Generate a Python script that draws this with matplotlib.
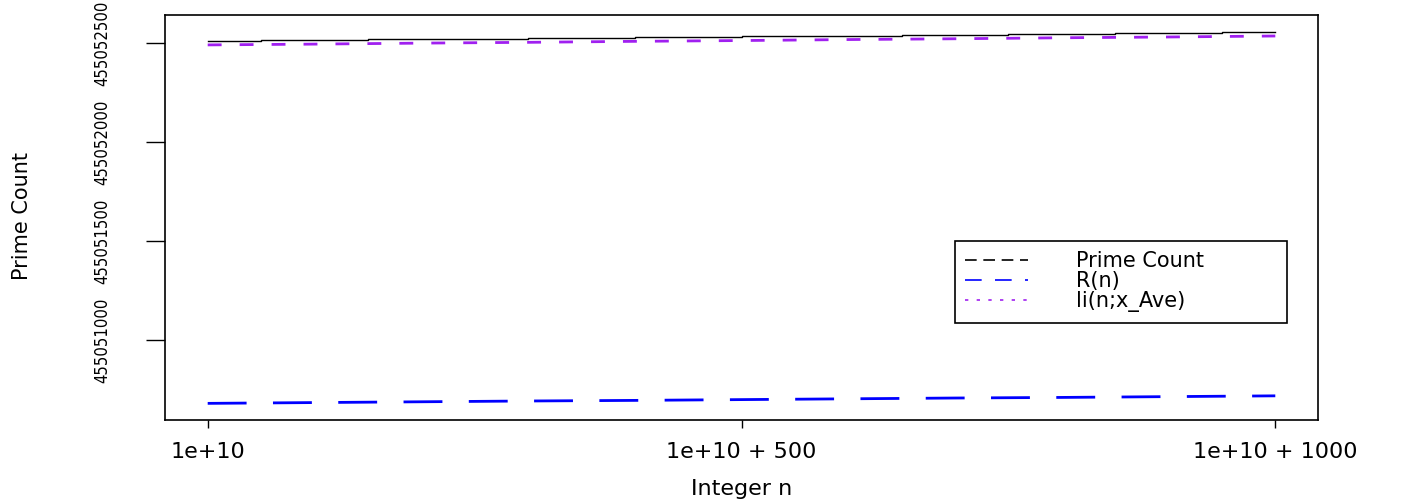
import matplotlib
matplotlib.use("Agg")
import matplotlib.pyplot as plt
from matplotlib.lines import Line2D

# offsets from 1e10
pc_offset = [0, 50, 100, 150, 200, 250, 300, 350, 400, 450, 500,
             550, 600, 650, 700, 750, 800, 850, 900, 950, 1000]
prime_count = [455052511, 455052513, 455052515, 455052518, 455052520, 455052522,
               455052524, 455052526, 455052528, 455052531, 455052533, 455052535,
               455052537, 455052539, 455052542, 455052544, 455052546, 455052548,
               455052551, 455052553, 455052555]

offset = [0, 100, 200, 300, 400, 500, 600, 700, 800, 900, 1000]
R_n = [455050680, 455050684, 455050688, 455050692, 455050695, 455050699,
       455050703, 455050707, 455050710, 455050714, 455050718]
li_ave = [455052490, 455052494, 455052499, 455052503, 455052508, 455052512,
          455052517, 455052521, 455052526, 455052530, 455052535]

yticks = [455051000, 455051500, 455052000, 455052500]
xticks = [0, 500, 1000]
xlabels = ["1e+10", "1e+10 + 500", "1e+10 + 1000"]

fig = plt.figure(figsize=[14.01, 4.99], dpi=100)
ax = fig.add_axes([165/1401, 1-420/499, (1318-165)/1401, (420-15)/499])

ax.step(pc_offset, prime_count, where="post", color="black", lw=1)
ax.plot(offset, R_n, color="#0000FF", lw=2, dashes=(14, 9.5))
ax.plot(offset, li_ave, color="#A020F0", lw=2, dashes=(5, 6.5))

ax.set_xlim(-40, 1040)
ax.set_ylim(455050596, 455052641)
ax.set_xticks(xticks)
ax.set_xticklabels(xlabels, fontsize=16)
ax.set_yticks(yticks)
ax.set_yticklabels([str(v) for v in yticks], rotation=90, va="center",
                   fontsize=12, fontstretch="condensed")
ax.tick_params(axis="x", length=6, width=1, pad=10)
ax.tick_params(axis="y", length=14, width=1, pad=25)
for s in ax.spines.values():
    s.set_linewidth(1.2)

ax.set_xlabel("Integer n", fontsize=16, labelpad=12)
fig.text(22/1401, 1-216/499, "Prime Count", rotation=90, va="center", ha="center",
         fontsize=15)

handles = [Line2D([], [], color="black", lw=1.2, dashes=(7, 4)),
           Line2D([], [], color="#0000FF", lw=1.2, dashes=(10, 8)),
           Line2D([], [], color="#A020F0", lw=1.2, dashes=(2, 5))]
leg = ax.legend(handles, ["Prime Count", "R(n)", "li(n;x_Ave)"],
                loc="upper left", bbox_to_anchor=(0.685, 0.252, 0.288, 0.19),
                mode="expand", fontsize=15, handlelength=3.0, handletextpad=2.3,
                labelspacing=0.0, borderpad=0.5, fancybox=False,
                framealpha=1, edgecolor="black", borderaxespad=0)
leg.get_frame().set_linewidth(1.2)

plt.savefig("out.png", dpi=100)
